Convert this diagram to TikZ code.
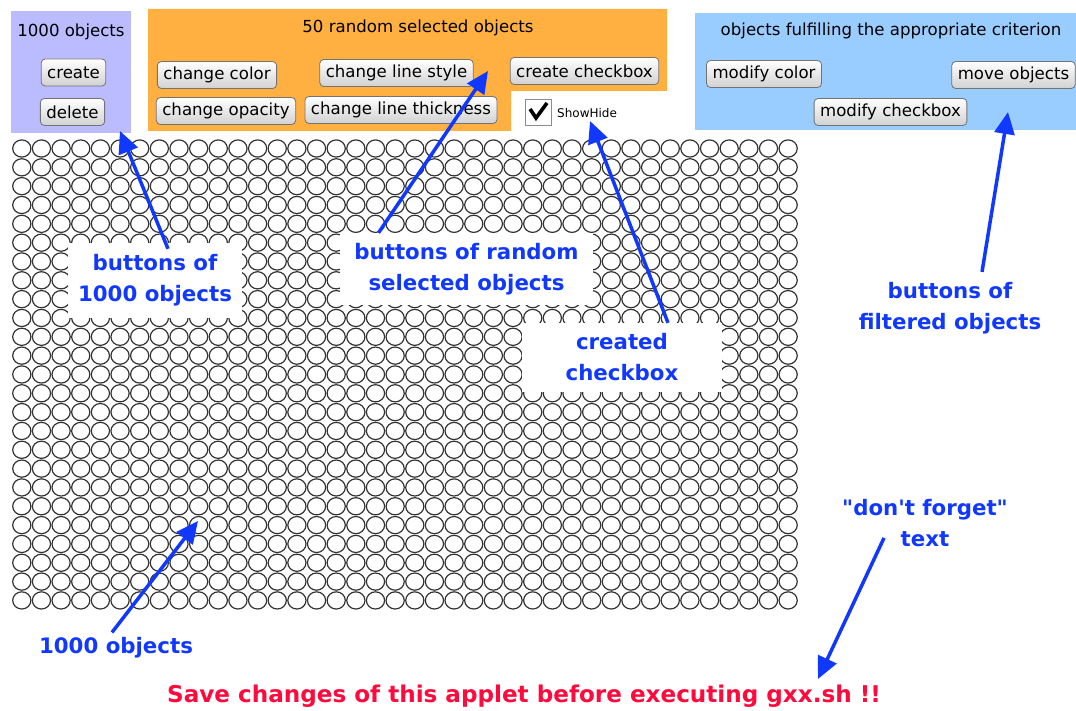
\documentclass[tikz,border=0pt]{standalone}
\usepackage{fontspec}
\setmainfont{DejaVu Sans}
\newfontfamily\notefont{DejaVu Sans}
\usetikzlibrary{arrows.meta}
\definecolor{lavender}{HTML}{BBBBFF}
\definecolor{panelorange}{HTML}{FFB040}
\definecolor{panelblue}{HTML}{99CCFF}
\definecolor{notered}{HTML}{FF0A3C}
\definecolor{noteblue}{HTML}{1038FF}
\tikzset{
    every node/.style={align=center,},
    button/.style={draw=black!55,rounded corners=4pt,top color=white,bottom color=black!18,
        font=\fontsize{16.6}{18}\selectfont,inner xsep=6pt,minimum height=27pt,line width=0.8pt,},
    caption/.style={font=\fontsize{16.6}{18}\selectfont,},
    obj/.style={draw=black!80,line width=1.2pt,},
    note/.style={text=noteblue,font=\notefont\bfseries\fontsize{21.3}{31}\selectfont,},
    notebox/.style={note,fill=white,inner sep=0pt,},
    pointer/.style={draw=noteblue,line width=3.5pt,-{Triangle[length=22pt,width=20pt]},},
}

\begin{document}
\begin{tikzpicture}[x=1pt,y=-1pt]
                \useasboundingbox (0,0) rectangle (1076,711);

                \fill[lavender] (11,11) rectangle (131,133);
                \fill[panelorange] (148,9) -- (667,9) -- (667,91) -- (511,91) -- (511,131) -- (148,131) -- cycle;
                \fill[panelblue] (695,13) rectangle (1076,130);

                \node[caption] (allcap) at (71,32) {1000 objects};
                \node[caption] (randcap) at (418,28) {50 random selected objects};
                \node[caption] (filtcap) at (891,31) {objects fulfilling the appropriate criterion};

                \node[button] (create) at (73.5,72.5) {create};
                \node[button] (delete) at (72.5,112) {delete};
                \node[button] (chcolor) at (217,75) {change color};
                \node[button] (chstyle) at (396.5,73) {change line style};
                \node[button] (mkcheck) at (584.5,71) {create checkbox};
                \node[button] (chopacity) at (226,111) {change opacity};
                \node[button] (chthick) at (401,110) {change line thickness};
                \node[button] (modcolor) at (764,74) {modify color};
                \node[button] (moveobj) at (1013.5,75) {move objects};
                \node[button] (modcheck) at (890.5,112) {modify checkbox};

                \node[draw=black!45,fill=white,minimum size=26pt,inner sep=0pt] (showbox) at (538,112) {};
                \draw[line width=3.6pt,line join=miter] (530,109) -- (536,118) -- (547,103);
                \node[font=\fontsize{12}{14}\selectfont,anchor=west,inner sep=0pt] (showhide) at (557,113) {ShowHide};

                \foreach \col in {0,...,39} {
                    \foreach \row in {0,...,24} {
                        \draw[obj] (21.8+19.65*\col,148.5+18.83*\row) ellipse [x radius=9.1pt,y radius=8.6pt];
                    }
                }

                \node[notebox,minimum width=174pt,minimum height=75pt] (allbtn) at (155,280.5) {buttons of\\1000 objects};
                \node[notebox,minimum width=253pt,minimum height=72pt] (randbtn) at (466.5,269) {buttons of random\\selected objects};
                \node[notebox,minimum width=200pt,minimum height=69pt] (newcheck) at (622,357.5) {created\\checkbox};
                \node[note,inner sep=0pt] (filtbtn) at (950,308) {buttons of\\filtered objects};
                \node[note,inner sep=0pt] (allobj) at (116,648) {1000 objects};
                \node[note,inner sep=0pt] (forget) at (925,523) {"don't forget"\\text};
                \node[text=notered,font=\notefont\bfseries\fontsize{23.1}{26}\selectfont] (save) at (524,696)
                    {Save changes of this applet before executing gxx.sh !!};

                \coordinate (tipall) at (120,131);
                \coordinate (tiprand) at (488,71);
                \coordinate (tipcheck) at (590,121);
                \coordinate (tipfilt) at (1008,112);
                \coordinate (tipobj) at (198,521);
                \coordinate (tipsave) at (818,679);

                \path ([xshift=13pt,yshift=-6pt]allbtn.north) edge[pointer] (tipall);
                \path ([xshift=-88pt]randbtn.north) edge[pointer] (tiprand);
                \path ([xshift=46pt]newcheck.north) edge[pointer] (tipcheck);
                \path ([xshift=32pt,yshift=10pt]filtbtn.north) edge[pointer] (tipfilt);
                \path ([xshift=-4pt,yshift=5pt]allobj.north) edge[pointer] (tipobj);
                \path ([xshift=-41pt,yshift=9pt]forget.south) edge[pointer] (tipsave);
            \end{tikzpicture}
\end{document}
